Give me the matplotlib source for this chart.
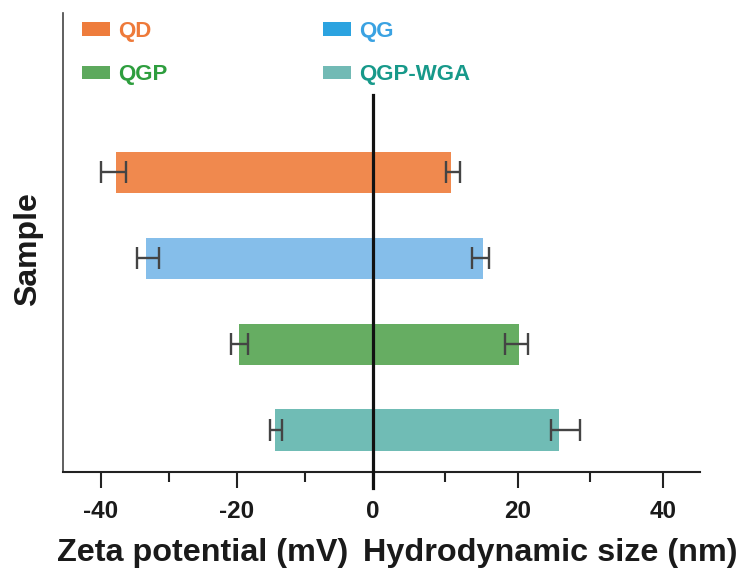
import matplotlib
matplotlib.use("Agg")
import matplotlib.pyplot as plt
from matplotlib.patches import Patch
import numpy as np

plt.rcParams['font.family'] = ['Liberation Sans', 'DejaVu Sans']
plt.rcParams['font.weight'] = 'bold'
plt.rcParams['axes.unicode_minus'] = False

samples = ["QD", "QG", "QGP", "QGP-WGA"]
zeta = [-37.8, -33.3, -19.7, -14.3]
zeta_err_low = [2.1, 1.3, 1.2, 0.8]
zeta_err_high = [1.5, 1.9, 1.3, 1.0]
size = [10.8, 15.2, 20.2, 25.7]
size_err_low = [0.7, 1.5, 2.0, 1.2]
size_err_high = [1.2, 0.8, 1.2, 2.9]

bar_colors = ["#F0894E", "#85BEEA", "#66AD62", "#70BCB5"]
legend_colors = ["#EE7C3C", "#2BA3E0", "#5DA95D", "#72BAB5"]
text_colors = ["#EE7A3A", "#3AA2E2", "#2E9E3E", "#17998A"]

left_ticks = [-40, -20]
left_minor = [-30, -10]
right_ticks = [0, 20, 40]
right_minor = [10, 30]

W, H = 739, 569
fig = plt.figure(figsize=(W / 100, H / 100), dpi=100)

x0, xz, x1 = 63.3, 372.7, 700.0
yb, yt = 471.7, 13.0
axL = fig.add_axes([x0 / W, 1 - yb / H, (xz - x0) / W, (yb - yt) / H])
axR = fig.add_axes([xz / W, 1 - yb / H, (x1 - xz) / W, (yb - yt) / H])

ypos = np.arange(len(samples))[::-1]
bh = 0.477
ylim = (-0.485, 4.85)

errkw = dict(ecolor="#444444", elinewidth=1.7, capsize=8, capthick=1.7)

axL.barh(ypos, zeta, height=bh, color=bar_colors,
         xerr=[zeta_err_low, zeta_err_high], error_kw=errkw, zorder=2)
axR.barh(ypos, size, height=bh, color=bar_colors,
         xerr=[size_err_low, size_err_high], error_kw=errkw, zorder=2)

axL.set_xlim(-45.5, 0)
axR.set_xlim(0, 45.1)
for ax in (axL, axR):
    ax.set_ylim(*ylim)
    ax.set_yticks([])
    ax.spines['top'].set_visible(False)
    ax.spines['right'].set_visible(False)
    ax.spines['bottom'].set_linewidth(1.5)
    ax.spines['bottom'].set_color("#222222")
    ax.tick_params(axis='x', which='major', length=11.5, width=1.5,
                   color="#222222", labelsize=17.5, pad=9, direction='out')
    ax.tick_params(axis='x', which='minor', length=7.5, width=1.5,
                   color="#222222", direction='out')
    ax.patch.set_alpha(0)

axL.spines['left'].set_linewidth(1.2)
axL.spines['left'].set_color("#444444")
axR.spines['left'].set_visible(False)

axL.set_xticks(left_ticks)
axL.set_xticks(left_minor, minor=True)
axL.set_xticklabels([str(t) for t in left_ticks], fontweight='bold', color="#1a1a1a")
axR.set_xticks(right_ticks)
axR.set_xticks(right_minor, minor=True)
axR.set_xticklabels([str(t) for t in right_ticks], fontweight='bold', color="#1a1a1a")

axR.axvline(0, ymin=-16 / (yb - yt), ymax=(yb - 95) / (yb - yt),
            color="#111111", lw=2.3, clip_on=False, zorder=5)

fig.text(57 / W, 1 - 561 / H, "Zeta potential (mV)", ha='left', va='baseline',
         fontsize=23.3, fontweight='bold', color="#1a1a1a")
fig.text(737.5 / W, 1 - 561 / H, "Hydrodynamic size (nm)", ha='right', va='baseline',
         fontsize=23.3, fontweight='bold', color="#1a1a1a")
fig.text(28 / W, 1 - 249 / H, "Sample", rotation=90, ha='center', va='center',
         fontsize=23, fontweight='bold', color="#1a1a1a")

order = [0, 2, 1, 3]
handles = [Patch(facecolor=legend_colors[i], edgecolor='none') for i in order]
labels = [samples[i] for i in order]
leg = fig.legend(handles, labels, ncol=2, loc='upper left',
                 bbox_to_anchor=(82 / W, 1 - 21 / H), frameon=False,
                 borderpad=0, borderaxespad=0, handlelength=1.26,
                 handleheight=0.55, handletextpad=0.36, columnspacing=7.0,
                 labelspacing=1.0, prop={'size': 16, 'weight': 'bold'})
for txt, i in zip(leg.get_texts(), order):
    txt.set_color(text_colors[i])

fig.savefig("out.png", dpi=100)
